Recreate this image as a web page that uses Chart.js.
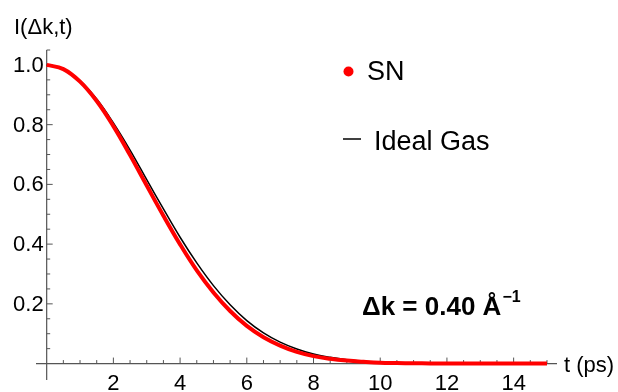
<!DOCTYPE html>
<html>
<head>
<meta charset="utf-8">
<script src="https://cdn.jsdelivr.net/npm/chart.js@4"></script>
<style>
html,body{margin:0;padding:0;background:#fff;}
canvas{display:block;}
</style>
</head>
<body>
<canvas id="c" width="618" height="392"></canvas>
<script>
// ---- data ----
const tValues = [0,0.5,1,1.5,2,2.5,3,3.5,4,4.5,5,5.5,6,6.5,7,7.5,8,8.5,9,9.5,10,10.5,11,11.5,12,12.5,13,13.5,14,14.5,15];
const snValues = [1.000,0.986,0.944,0.879,0.795,0.698,0.596,0.495,0.399,0.312,0.238,0.176,0.126,0.088,0.060,0.039,0.025,0.016,0.010,0.006,0.003,0.002,0.001,0.0005,0.0003,0,0,0,0,0,0];
const idealGasValues = [1.000,0.987,0.948,0.886,0.806,0.715,0.616,0.518,0.423,0.337,0.261,0.197,0.144,0.103,0.072,0.049,0.032,0.021,0.013,0.008,0.005,0.003,0.0015,0.0008,0.0004,0.0002,0,0,0,0,0];
const xTickLabels = [2,4,6,8,10,12,14];
const yTickLabels = ['0.2','0.4','0.6','0.8','1.0'];
const seriesNames = ['SN','Ideal Gas'];

const FONT = '"Liberation Sans", Arial, Helvetica, sans-serif';

const axesPlugin = {
  id: 'mmaAxes',
  beforeDatasetsDraw(chart) {
    const ctx = chart.ctx, xs = chart.scales.x, ys = chart.scales.y;
    const x0 = xs.getPixelForValue(0), y0 = ys.getPixelForValue(0);
    ctx.save();
    ctx.strokeStyle = '#555';
    ctx.lineWidth = 1.2;
    ctx.beginPath();
    ctx.moveTo(xs.left, y0); ctx.lineTo(xs.right, y0);
    ctx.moveTo(x0, ys.top); ctx.lineTo(x0, ys.bottom);
    ctx.stroke();
    // x ticks (pointing up)
    ctx.lineWidth = 1;
    ctx.beginPath();
    for (let k = 1; k <= 30; k++) {
      const v = k * 0.5;
      const px = xs.getPixelForValue(v);
      const len = (k % 4 === 0) ? 6 : 3.5;
      ctx.moveTo(px, y0); ctx.lineTo(px, y0 - len);
    }
    // y ticks (pointing right)
    for (let k = 1; k <= 21; k++) {
      const v = k * 0.05;
      const py = ys.getPixelForValue(v);
      const len = (k % 4 === 0) ? 6 : 3.5;
      ctx.moveTo(x0, py); ctx.lineTo(x0 + len, py);
    }
    ctx.stroke();
    // tick labels
    ctx.fillStyle = '#000';
    ctx.font = '22px ' + FONT;
    ctx.textAlign = 'center';
    ctx.textBaseline = 'top';
    xTickLabels.forEach(v => ctx.fillText(String(v), xs.getPixelForValue(v), y0 + 9));
    ctx.textAlign = 'right';
    ctx.textBaseline = 'middle';
    yTickLabels.forEach(s => ctx.fillText(s, x0 - 3, ys.getPixelForValue(parseFloat(s)) + 1));
    // axis titles
    ctx.textAlign = 'left';
    ctx.textBaseline = 'alphabetic';
    ctx.fillText('I(\u0394k,t)', 14, 34);
    ctx.textBaseline = 'middle';
    ctx.fillText('t (ps)', 564, y0 + 2);
    ctx.restore();
  },
  afterDraw(chart) {
    const ctx = chart.ctx;
    ctx.save();
    // legend
    ctx.fillStyle = '#ff0000';
    ctx.beginPath(); ctx.arc(348.5, 71.5, 5, 0, Math.PI * 2); ctx.fill();
    ctx.fillStyle = '#000';
    ctx.font = '27px ' + FONT;
    ctx.textAlign = 'left';
    ctx.textBaseline = 'alphabetic';
    ctx.fillText(seriesNames[0], 367, 80);
    ctx.strokeStyle = '#000';
    ctx.lineWidth = 1.5;
    ctx.beginPath(); ctx.moveTo(343, 139); ctx.lineTo(361, 139); ctx.stroke();
    ctx.fillText(seriesNames[1], 374, 150);
    // annotation
    ctx.font = 'bold 26px ' + FONT;
    const main = '\u0394k = 0.40 \u00C5';
    ctx.fillText(main, 362, 315);
    const w = ctx.measureText(main).width;
    ctx.font = 'bold 16px ' + FONT;
    ctx.fillText('\u22121', 362 + w + 1, 302);
    ctx.restore();
  }
};

const toPts = vals => tValues.map((t, i) => ({x: t, y: vals[i]}));

new Chart(document.getElementById('c'), {
  type: 'line',
  data: {
    datasets: [
      { label: seriesNames[0], data: toPts(snValues), borderColor: '#ff0000', borderWidth: 4,
        pointRadius: 0, tension: 0.4, fill: false, order: 0 },
      { label: seriesNames[1], data: toPts(idealGasValues), borderColor: '#000000', borderWidth: 1.5,
        pointRadius: 0, tension: 0.4, fill: false, order: 1 }
    ]
  },
  options: {
    responsive: false,
    animation: false,
    events: [],
    layout: { padding: { left: 36, right: 61, top: 50, bottom: 12 } },
    plugins: { legend: { display: false }, tooltip: { enabled: false } },
    scales: {
      x: { type: 'linear', min: -0.32, max: 15.3, display: false },
      y: { type: 'linear', min: -0.055, max: 1.05, display: false }
    }
  },
  plugins: [axesPlugin]
});
</script>
</body>
</html>
